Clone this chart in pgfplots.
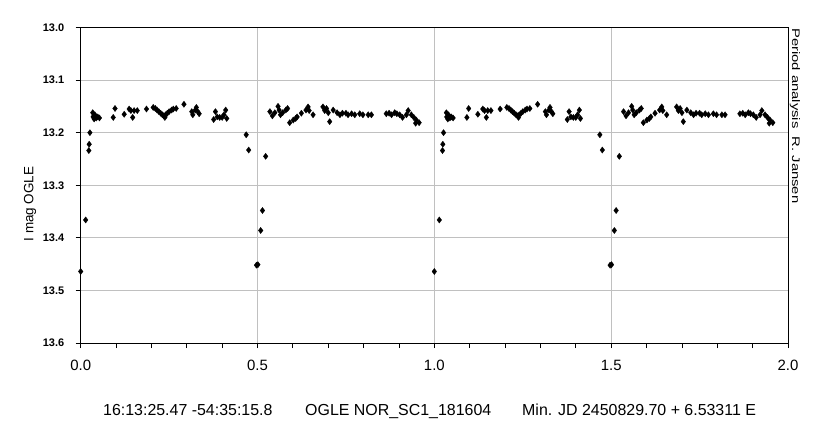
\documentclass[border=0pt]{standalone}
\usepackage{fontspec}
\setmainfont{Liberation Sans}
\usepackage{pgfplots}
\pgfplotsset{compat=1.18}
\usepackage{pgfplotstable}

% phase-folded I magnitudes, plotted twice (phase and phase+1)
\pgfplotstableread{
ph mag
0.000 13.464
0.014 13.366
0.023 13.234
0.024 13.222
0.026 13.200
0.034 13.162
0.035 13.170
0.038 13.174
0.040 13.166
0.044 13.172
0.048 13.170
0.053 13.172
0.092 13.171
0.097 13.154
0.123 13.165
0.137 13.155
0.142 13.158
0.147 13.171
0.151 13.158
0.160 13.158
0.186 13.155
0.205 13.152
0.211 13.154
0.216 13.157
0.221 13.160
0.226 13.163
0.231 13.166
0.235 13.168
0.238 13.171
0.240 13.166
0.245 13.163
0.250 13.160
0.257 13.157
0.262 13.155
0.270 13.154
0.292 13.146
0.314 13.160
0.317 13.166
0.324 13.157
0.327 13.152
0.331 13.160
0.335 13.164
0.376 13.175
0.381 13.160
0.386 13.170
0.393 13.171
0.400 13.171
0.405 13.166
0.410 13.157
0.413 13.173
0.468 13.204
0.475 13.233
0.497 13.452
0.501 13.451
0.509 13.386
0.514 13.348
0.523 13.245
0.535 13.160
0.542 13.168
0.549 13.162
0.558 13.150
0.561 13.157
0.565 13.166
0.571 13.162
0.580 13.157
0.585 13.154
0.591 13.181
0.601 13.176
0.608 13.173
0.612 13.170
0.624 13.163
0.637 13.157
0.643 13.151
0.646 13.158
0.657 13.166
0.685 13.151
0.690 13.158
0.695 13.154
0.700 13.162
0.704 13.179
0.714 13.157
0.725 13.162
0.733 13.166
0.740 13.163
0.750 13.163
0.756 13.166
0.766 13.164
0.775 13.166
0.789 13.164
0.798 13.166
0.813 13.166
0.822 13.166
0.864 13.164
0.872 13.163
0.879 13.166
0.888 13.162
0.894 13.164
0.902 13.166
0.910 13.171
0.921 13.166
0.926 13.158
0.935 13.166
0.942 13.171
0.947 13.182
0.949 13.176
0.957 13.181
}\lc

\definecolor{gridgray}{RGB}{192,192,192}

\begin{document}
\begin{tikzpicture}
\begin{axis}[
  at={(0,0)}, anchor=south west,
  scale only axis, width=707.3bp, height=315.5bp,
  xmin=0, xmax=2, ymin=13.0, ymax=13.6, y dir=reverse,
  xtick={0,0.5,1,1.5,2}, minor x tick num=4,
  ytick={13.0,13.1,13.2,13.3,13.4,13.5,13.6},
  xmajorgrids, ymajorgrids,
  grid style={gridgray, line width=0.8bp},
  tick align=outside, xtick pos=left, ytick pos=left,
  major tick length=5bp, minor tick length=5bp,
  tick style={black, line width=0.8bp},
  axis line style={black, line width=0.9bp},
  /pgf/number format/assume math mode=true,
  /pgf/number format/.cd, fixed, fixed zerofill, precision=1, 1000 sep={},
  /pgfplots/.cd,
  xticklabel style={font=\fontsize{15}{15}\selectfont, yshift=-9bp},
  yticklabel style={font=\bfseries\fontsize{11}{11}\selectfont, xshift=-8bp},
]
\addplot[only marks, mark=diamond*, mark size=3.1bp,
  mark options={draw=black, fill=black, line width=0.3bp}]
  table[x=ph, y=mag] {\lc};
\addplot[only marks, mark=diamond*, mark size=3.1bp,
  mark options={draw=black, fill=black, line width=0.3bp}]
  table[x expr=\thisrow{ph}+1, y=mag] {\lc};
\end{axis}
\node[rotate=90, font=\fontsize{13.5}{13.5}\selectfont] at (-50.7bp,139bp) {I mag OGLE};
\node[rotate=-90, anchor=base west, inner sep=0pt, xscale=1.35, font=\fontsize{11}{11}\selectfont]
  at (711.3bp,315bp) {Period analysis\ \ R. Jansen};
\begin{scope}[every node/.style={anchor=base west, inner sep=0pt, font=\fontsize{16}{16}\selectfont}]
\node at (22.3bp,-72.8bp) {16:13:25.47 -54:35:15.8};
\node at (224.3bp,-72.8bp) {OGLE NOR\_SC1\_181604};
\node at (441.3bp,-72.8bp) {Min. JD 2450829.70 + 6.53311 E};
\end{scope}
\pgfresetboundingbox
\path[use as bounding box] (-80.7bp,-82bp) rectangle (733.3bp,343bp);
\end{tikzpicture}
\end{document}
